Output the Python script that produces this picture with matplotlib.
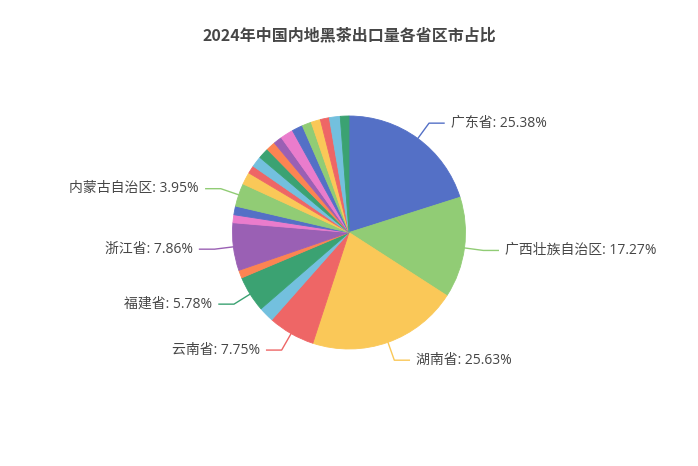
import numpy as np
import matplotlib
matplotlib.use('Agg')
import matplotlib.pyplot as plt

plt.rcParams['font.family'] = ['Open Sans', 'Noto Sans CJK SC', 'DejaVu Sans']

# Pie shares and the percentages printed in the labels
names = ['广东省', '广西壮族自治区', '湖南省', '云南省', '', '福建省', '', '浙江省', '', '',
         '内蒙古自治区', '', '', '', '', '', '', '', '', '', '', '', '', '']
shares = [20.1, 14.0, 20.9, 6.5, 2.1, 5.0, 1.1, 6.6, 1.1, 1.2,
          3.2, 1.7, 1.1, 1.5, 1.5, 1.3, 1.2, 1.8, 1.5, 1.3, 1.3, 1.25, 1.5, 1.2]
label_pct = ['25.38%', '17.27%', '25.63%', '7.75%', '', '5.78%', '', '7.86%', '', '',
             '3.95%', '', '', '', '', '', '', '', '', '', '', '', '', '']

palette = ['#5470c6', '#91cc75', '#fac858', '#ee6666', '#73c0de',
           '#3ba272', '#fc8452', '#9a60b4', '#ea7ccc']
colors = [palette[i % len(palette)] for i in range(len(shares))]

W, H = 698, 466
fig = plt.figure(figsize=(W / 100, H / 100), dpi=100)
ax = fig.add_axes([0, 0, 1, 1])

cx, cy, r = 349, H - 232.5, 116.5
wedges, _ = ax.pie(shares, colors=colors, startangle=90, counterclock=False,
                   center=(cx, cy), radius=r, frame=True)
for w, col in zip(wedges, colors):
    w.set_edgecolor(col)
    w.set_linewidth(0.6)
ax.set_xlim(0, W)
ax.set_ylim(0, H)
ax.set_aspect('equal')
ax.axis('off')

# label lines like echarts: radial segment then horizontal segment
L1, L2, gap = 19, 15, 7
for w, name, pct, col in zip(wedges, names, label_pct, colors):
    if not name:
        continue
    mid = np.deg2rad((w.theta1 + w.theta2) / 2)
    x0, y0 = cx + r * np.cos(mid), cy + r * np.sin(mid)
    x1, y1 = cx + (r + L1) * np.cos(mid), cy + (r + L1) * np.sin(mid)
    side = 1 if np.cos(mid) >= 0 else -1
    x2 = x1 + side * L2
    ax.plot([x0, x1, x2], [y0, y1, y1], color=col, lw=1)
    ax.text(x2 + side * gap, y1, f'{name}: {pct}', fontsize=10, color='#464646',
            ha='left' if side > 0 else 'right', va='center')

ax.text(W / 2, H - 35, '2024年中国内地黑茶出口量各省区市占比', fontsize=11.5,
        fontweight='bold', color='#464646', ha='center', va='center',
        family=['Noto Sans CJK SC', 'DejaVu Sans'])

fig.savefig('out.png', dpi=100, facecolor='white')
